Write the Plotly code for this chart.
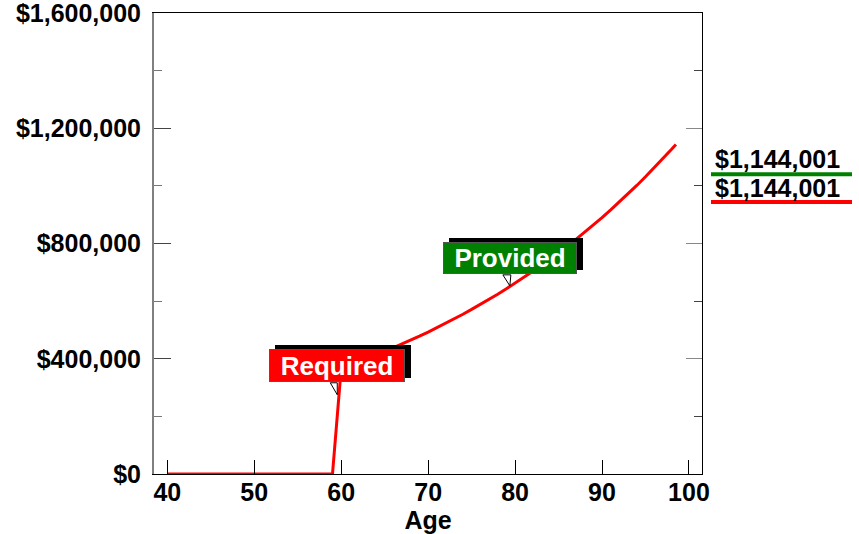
import plotly.graph_objects as go

# ---- data ----
ages = [40, 45, 50, 55, 59, 60, 61, 62, 63, 64, 65, 66, 67, 68, 69, 70, 71, 72, 73, 74,
        75, 76, 77, 78, 79, 80, 81, 82, 83, 84, 85, 86, 87, 88, 89, 90, 91, 92, 93, 94,
        95, 96, 97, 98, 98.5]
balance = [0, 0, 0, 0, 0, 366600, 377600, 388900, 400600, 412600, 425000, 437700,
           450900, 464400, 478300, 492700, 507500, 522700, 538400, 554500, 571200,
           588300, 605900, 624100, 642800, 662100, 682000, 702400, 723500, 745200,
           767600, 790600, 814300, 838800, 863900, 889800, 916500, 944000, 972300,
           1001500, 1031600, 1062500, 1094400, 1127200, 1144001]

label_names = ["Required", "Provided"]
label_ages = [59.55, 79.4]
label_values = [275000, 653000]
label_colors = ["#ff0000", "#008000"]

end_labels = ["$1,144,001", "$1,144,001"]
end_colors = ["#008000", "#ff0000"]

y_ticks = [0, 400000, 800000, 1200000, 1600000]
y_ticktext = ["$0", "$400,000", "$800,000", "$1,200,000", "$1,600,000"]
x_ticks = [40, 50, 60, 70, 80, 90, 100]

FONT = "Liberation Sans, Arial, sans-serif"
FS = 25

fig = go.Figure()
fig.add_trace(go.Scatter(x=ages, y=balance, mode="lines",
                         line=dict(color="#ff0000", width=3),
                         showlegend=False, hoverinfo="skip"))
fig.add_trace(go.Scatter(x=[None], y=[None], yaxis="y2", mode="lines",
                         showlegend=False, hoverinfo="skip"))

fig.update_layout(
    width=859, height=534,
    margin=dict(l=154, r=157, t=13, b=60, autoexpand=False),
    paper_bgcolor="white", plot_bgcolor="white",
    font=dict(family=FONT, size=FS, color="black", weight="bold"),
    xaxis=dict(range=[38.47, 101.5], tickvals=x_ticks, ticks="inside", ticklen=14,
               tickcolor="black", tickwidth=1, showline=True, linecolor="black",
               linewidth=1, mirror=True, showgrid=False, zeroline=False,
               automargin=False, ticklabelstandoff=-4,
               title=dict(text="Age", standoff=0,
                          font=dict(family=FONT, size=FS, weight="bold")),
               tickfont=dict(family=FONT, size=FS, weight="bold")),
    yaxis=dict(range=[0, 1600000], tickvals=y_ticks, ticktext=y_ticktext,
               ticks="inside", ticklen=17, tickcolor="#444", tickwidth=1,
               minor=dict(dtick=200000, tick0=0, ticks="inside", ticklen=8,
                          tickcolor="#777", tickwidth=1),
               showline=True, linecolor="#808080", linewidth=2, showgrid=False,
               zeroline=False, ticklabelstandoff=6, automargin=False,
               ticklabeloverflow="allow",
               tickfont=dict(family=FONT, size=FS, weight="bold")),
    yaxis2=dict(range=[0, 1600000], overlaying="y", side="right", tickvals=y_ticks,
                ticks="inside", ticklen=16, tickcolor="#888", tickwidth=1,
                minor=dict(dtick=200000, tick0=0, ticks="inside", ticklen=8,
                           tickcolor="#444", tickwidth=1),
                showline=True, linecolor="black", linewidth=1, showgrid=False,
                zeroline=False, showticklabels=False, automargin=False),
)

box_w = [134, 132]
box_h = [31, 30]
yshift = [29, 28]
tails = ["M0,0 L-7,12 L0,12 Z", "M0,0 L-7,11 L1,11 Z"]
for i, name in enumerate(label_names):
    fig.add_shape(type="path", xref="x", yref="y", xsizemode="pixel", ysizemode="pixel",
                  xanchor=label_ages[i], yanchor=label_values[i], path=tails[i],
                  fillcolor="white", line=dict(color="black", width=1), layer="above")
    # 3D shadow
    fig.add_annotation(x=label_ages[i], y=label_values[i], xref="x", yref="y",
                       text=" ", showarrow=False, width=box_w[i], height=box_h[i],
                       bgcolor="black", bordercolor="black", borderwidth=1, borderpad=0,
                       xanchor="center", yanchor="middle",
                       xshift=6, yshift=yshift[i] + 4)
    fig.add_annotation(x=label_ages[i], y=label_values[i], xref="x", yref="y",
                       text=name, showarrow=False, width=box_w[i], height=box_h[i],
                       bgcolor=label_colors[i], bordercolor="#555", borderwidth=1,
                       borderpad=0, xanchor="center", yanchor="middle",
                       xshift=0, yshift=yshift[i],
                       font=dict(family=FONT, size=26, color="white", weight="bold"))

end_text_y = [0.683, 0.620]
end_line_y = [0.650, 0.590]
for i, t in enumerate(end_labels):
    fig.add_annotation(x=1.137, y=end_text_y[i], xref="paper", yref="paper", text=t,
                       showarrow=False, xanchor="center", yanchor="middle",
                       font=dict(family=FONT, size=FS, color="black", weight="bold"))
    fig.add_shape(type="line", xref="paper", yref="paper", x0=1.0164, x1=1.2737,
                  y0=end_line_y[i], y1=end_line_y[i],
                  line=dict(color=end_colors[i], width=4))

fig.write_html("out.html", config={"displayModeBar": False},
               post_script="document.body.style.margin='0';document.body.style.padding='0';")
